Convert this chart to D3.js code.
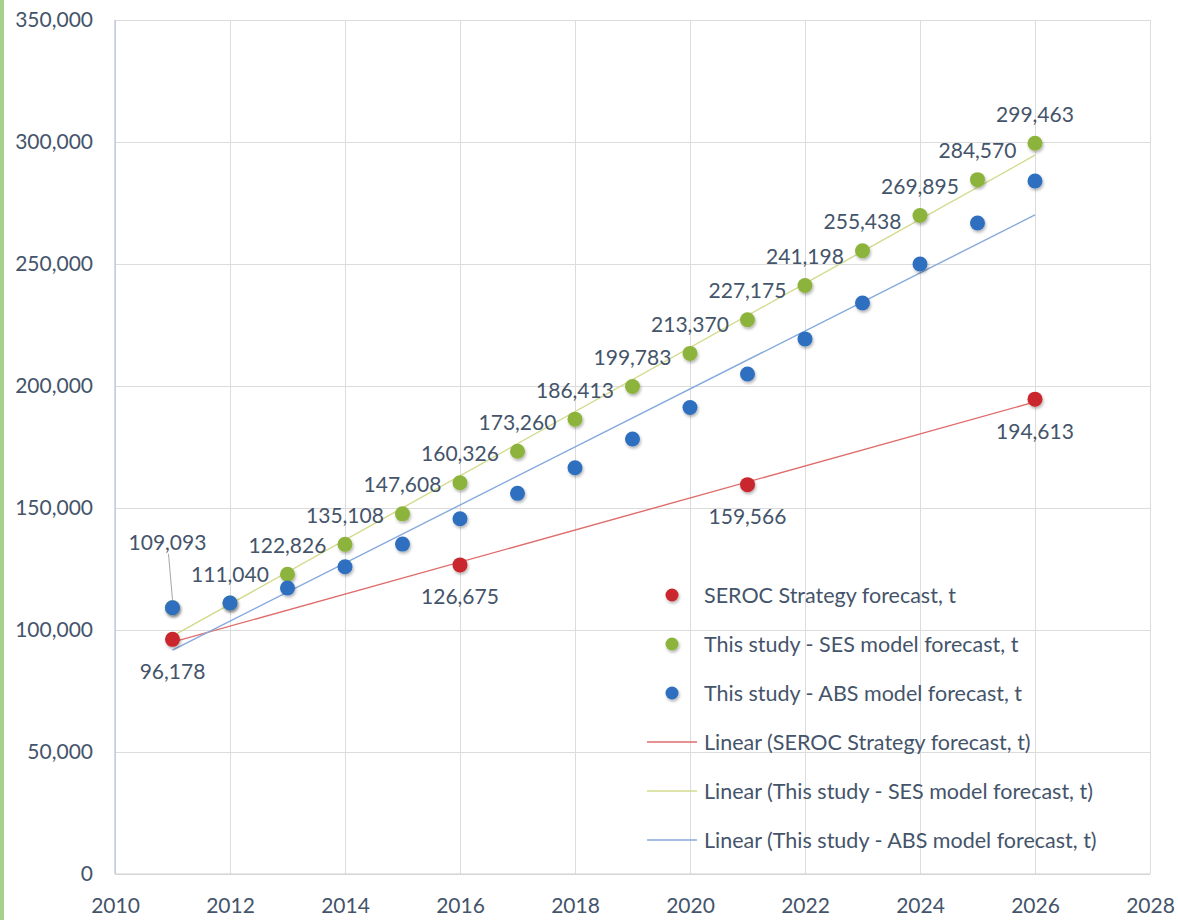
<!DOCTYPE html>
<html>
<head>
<meta charset="utf-8">
<script src="https://cdnjs.cloudflare.com/ajax/libs/d3/7.8.5/d3.min.js"></script>
<style>
  html, body { margin: 0; padding: 0; background: #fff; }
  svg { display: block; }
  text { font-family: Lato, "Open Sans", sans-serif; }
</style>
</head>
<body>
<svg id="chart" width="1178" height="920"></svg>
<script>
// ---------- data ----------
const years = [2011, 2012, 2013, 2014, 2015, 2016, 2017, 2018, 2019, 2020, 2021, 2022, 2023, 2024, 2025, 2026];
const serocYears = [2011, 2016, 2021, 2026];
const serocValues = [96178, 126675, 159566, 194613];
const sesValues = [109093, 111040, 122826, 135108, 147608, 160326, 173260, 186413, 199783, 213370, 227175, 241198, 255438, 269895, 284570, 299463];
const absValues = [109093, 111040, 117200, 125900, 135200, 145600, 156000, 166500, 178300, 191200, 204900, 219300, 234000, 250000, 266800, 284000];
const xTicks = [2010, 2012, 2014, 2016, 2018, 2020, 2022, 2024, 2026, 2028];
const yTicks = [0, 50000, 100000, 150000, 200000, 250000, 300000, 350000];
const seriesNames = ["SEROC Strategy forecast, t", "This study - SES model forecast, t", "This study - ABS model forecast, t"];
const trendNames = ["Linear (SEROC Strategy forecast, t)", "Linear (This study - SES model forecast, t)", "Linear (This study - ABS model forecast, t)"];

// ---------- styles ----------
const colors = { red: "#c9282d", green: "#8cb43c", blue: "#2f6fbf" };
const trendColors = { red: "#e06b6b", green: "#d3da8c", blue: "#86a9dc" };
const labelColor = "#44546a";
const gridColor = "#dcdcdc";

const svg = d3.select("#chart");
const x = d3.scaleLinear().domain([2010, 2028]).range([115, 1150]);
const y = d3.scaleLinear().domain([0, 350000]).range([874, 20]);

// left green page strip
svg.append("rect").attr("x", 0).attr("y", 0).attr("width", 4).attr("height", 920).attr("fill", "#a9d18e");

const defs = svg.append("defs");
const f = defs.append("filter").attr("id", "shadow").attr("x", "-50%").attr("y", "-50%").attr("width", "200%").attr("height", "200%");
f.append("feDropShadow").attr("dx", 1).attr("dy", 2).attr("stdDeviation", 1.4).attr("flood-color", "#000").attr("flood-opacity", 0.3);

// gridlines
const gx = svg.append("g").attr("transform", "translate(0,874)")
  .call(d3.axisBottom(x).tickValues(xTicks).tickSize(-854).tickFormat(""));
gx.select(".domain").remove();
gx.selectAll("line").attr("stroke", gridColor).attr("stroke-width", 1);

const gy = svg.append("g").attr("transform", "translate(115,0)")
  .call(d3.axisLeft(y).tickValues(yTicks).tickSize(-1035).tickFormat(""));
gy.select(".domain").remove();
gy.selectAll("line").attr("stroke", gridColor).attr("stroke-width", 1);

// axis lines
svg.append("line").attr("x1", x(2010)).attr("x2", x(2010)).attr("y1", y(350000)).attr("y2", y(0))
  .attr("stroke", "#b8c2de").attr("stroke-width", 1.2);
svg.append("line").attr("x1", x(2010)).attr("x2", x(2028)).attr("y1", y(0)).attr("y2", y(0))
  .attr("stroke", "#d0d0d0").attr("stroke-width", 1.2);

// tick labels
const ay = svg.append("g").attr("transform", "translate(115,0)")
  .call(d3.axisLeft(y).tickValues(yTicks).tickSize(0).tickPadding(22).tickFormat(d3.format(",")));
ay.select(".domain").remove();
ay.selectAll("text").attr("fill", labelColor).style("font-size", "21px").style("font-family", "Lato, sans-serif");

const ax = svg.append("g").attr("transform", "translate(0,874)")
  .call(d3.axisBottom(x).tickValues(xTicks).tickSize(0).tickPadding(24).tickFormat(d3.format("d")));
ax.select(".domain").remove();
ax.selectAll("text").attr("fill", labelColor).style("font-size", "21px").style("font-family", "Lato, sans-serif");

// trend lines (least squares)
function fit(xs, ys) {
  const mx = d3.mean(xs), my = d3.mean(ys);
  let num = 0, den = 0;
  xs.forEach((xi, i) => { num += (xi - mx) * (ys[i] - my); den += (xi - mx) * (xi - mx); });
  const b = num / den, a = my - b * mx;
  return t => a + b * t;
}
const trends = [
  { xs: serocYears, ys: serocValues, c: trendColors.red },
  { xs: years, ys: sesValues, c: trendColors.green },
  { xs: years, ys: absValues, c: trendColors.blue }
];
trends.forEach(t => {
  const fn = fit(t.xs, t.ys);
  const x0 = d3.min(t.xs), x1 = d3.max(t.xs);
  svg.append("line").attr("x1", x(x0)).attr("y1", y(fn(x0))).attr("x2", x(x1)).attr("y2", y(fn(x1)))
    .attr("stroke", t.c).attr("stroke-width", 1.4);
});

// points
function drawPoints(xs, ys, color) {
  svg.append("g").selectAll("circle").data(xs.map((d, i) => [d, ys[i]])).join("circle")
    .attr("cx", d => x(d[0])).attr("cy", d => y(d[1])).attr("r", 7.5)
    .attr("fill", color).attr("filter", "url(#shadow)");
}
drawPoints(serocYears, serocValues, colors.red);
drawPoints(years, sesValues, colors.green);
drawPoints(years, absValues, colors.blue);

// data labels
const fmt = d3.format(",");
const sesLabels = svg.append("g");
years.forEach((yr, i) => {
  let dx = 0, dy = -30;
  if (i === 0) { dx = -5; dy = -66; }
  sesLabels.append("text").attr("x", x(yr) + dx).attr("y", y(sesValues[i]) + dy)
    .attr("text-anchor", "middle").attr("dominant-baseline", "central")
    .attr("fill", labelColor).style("font-size", "21px").text(fmt(sesValues[i]));
});
svg.append("line").attr("x1", x(2011) - 4).attr("y1", y(sesValues[0]) - 54)
  .attr("x2", x(2011)).attr("y2", y(sesValues[0]) - 8).attr("stroke", "#a6a6a6").attr("stroke-width", 1);
serocYears.forEach((yr, i) => {
  svg.append("text").attr("x", x(yr)).attr("y", y(serocValues[i]) + 31)
    .attr("text-anchor", "middle").attr("dominant-baseline", "central")
    .attr("fill", labelColor).style("font-size", "21px").text(fmt(serocValues[i]));
});

// legend
const lg = svg.append("g");
const rowY = [595, 644, 693, 742, 791, 840];
const mColors = [colors.red, colors.green, colors.blue];
const tColors = [trendColors.red, trendColors.green, trendColors.blue];
seriesNames.forEach((n, i) => {
  lg.append("circle").attr("cx", 672).attr("cy", rowY[i]).attr("r", 6.5).attr("fill", mColors[i]).attr("filter", "url(#shadow)");
  lg.append("text").attr("x", 704).attr("y", rowY[i]).attr("dominant-baseline", "central")
    .attr("fill", labelColor).style("font-size", "21.5px").text(n);
});
trendNames.forEach((n, i) => {
  lg.append("line").attr("x1", 647).attr("x2", 697).attr("y1", rowY[i + 3]).attr("y2", rowY[i + 3])
    .attr("stroke", tColors[i]).attr("stroke-width", 1.6);
  lg.append("text").attr("x", 704).attr("y", rowY[i + 3]).attr("dominant-baseline", "central")
    .attr("fill", labelColor).style("font-size", "21.5px").text(n);
});
</script>
</body>
</html>
